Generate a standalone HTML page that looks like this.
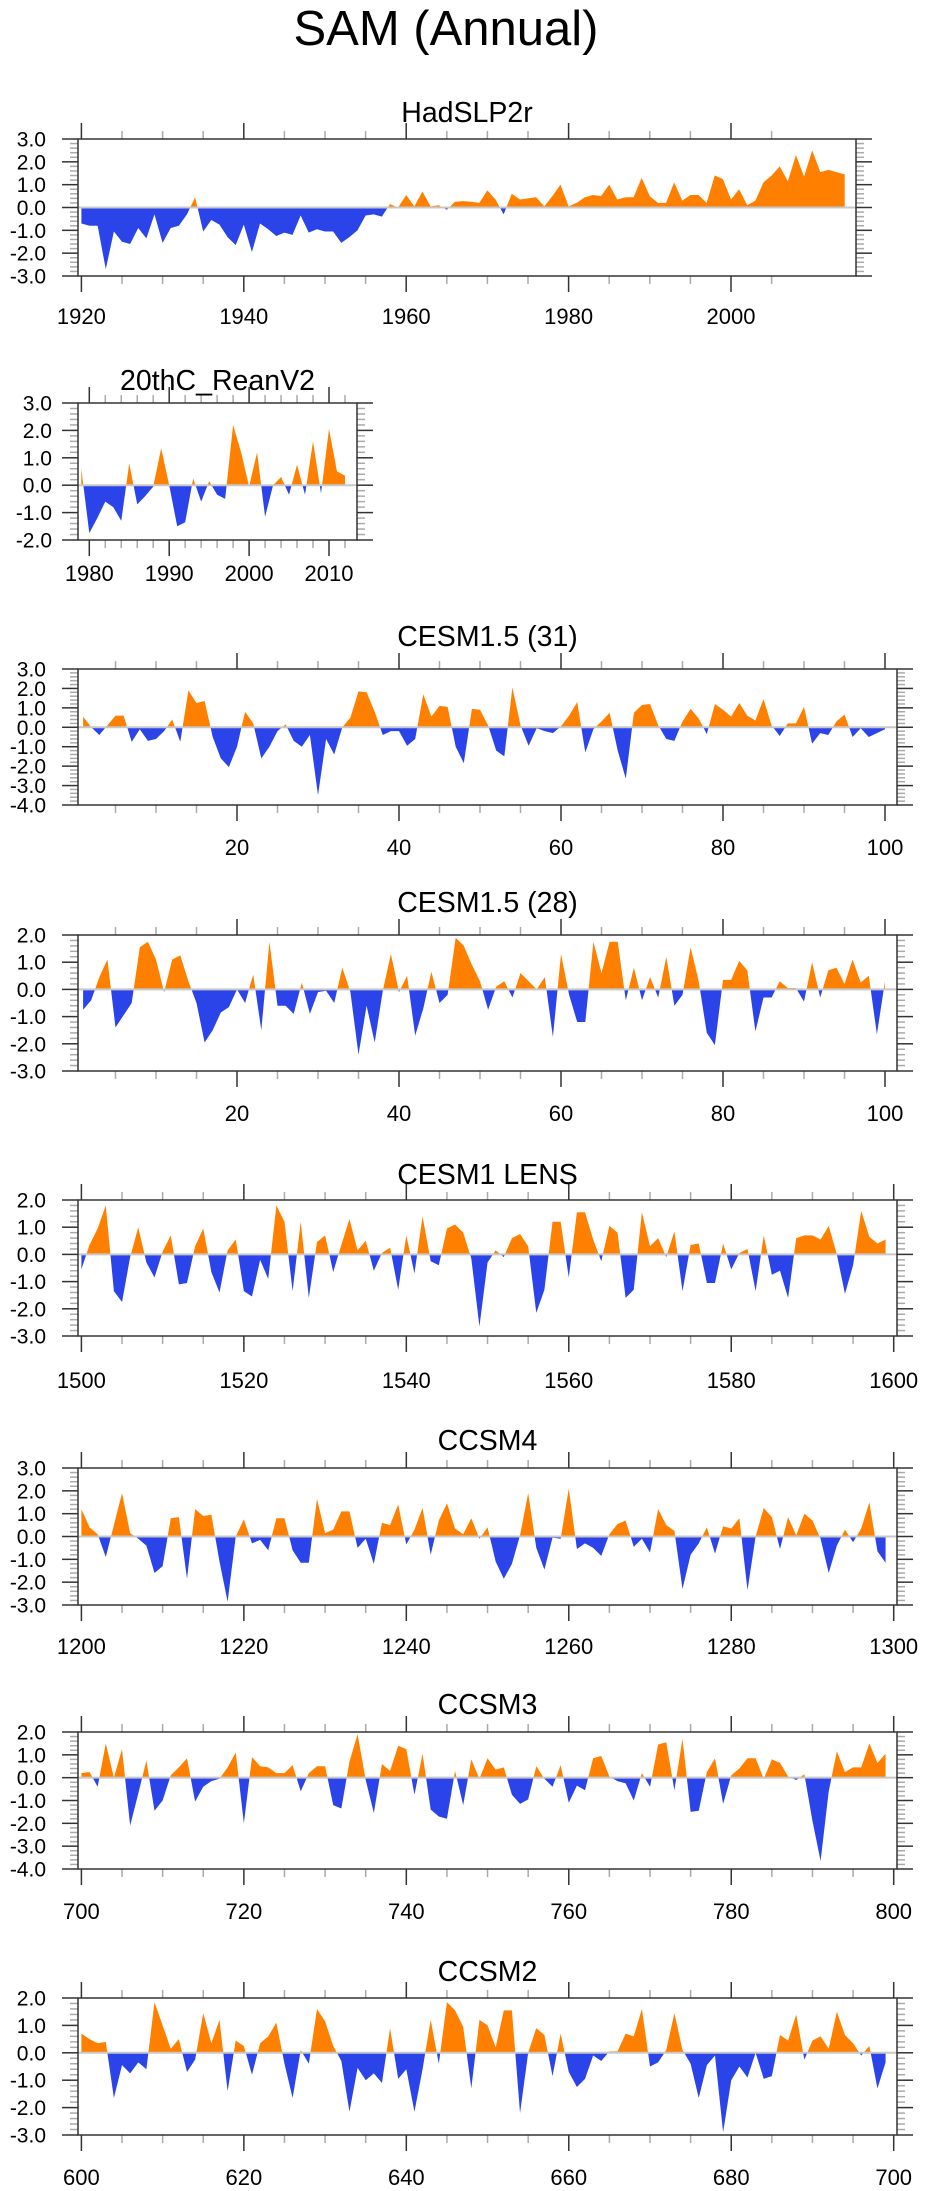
<!DOCTYPE html>
<html><head><meta charset="utf-8"><title>SAM (Annual)</title>
<style>
html,body{margin:0;padding:0;background:#fff;}
svg{display:block;font-family:"Liberation Sans",Arial,sans-serif;}
</style></head>
<body>
<svg id="chart" xmlns="http://www.w3.org/2000/svg" width="925" height="2191" viewBox="0 0 925 2191">
<rect x="0" y="0" width="925" height="2191" fill="#fff"/>
<text x="446" y="45" text-anchor="middle" font-size="49" fill="#000">SAM (Annual)</text>
</svg>
<script>
// ---- data ----
const hadStart = 1920;
const hadValues = [-0.7,-0.8,-0.8,-2.7,-1.05,-1.5,-1.6,-0.9,-1.35,-0.3,-1.55,-0.9,-0.8,-0.3,0.45,-1.05,-0.55,-0.75,-1.3,-1.65,-0.75,-1.95,-0.7,-0.95,-1.25,-1.1,-1.2,-0.35,-1.1,-0.95,-1.05,-1.05,-1.55,-1.3,-1.0,-0.35,-0.3,-0.4,0.15,0.0,0.55,0.05,0.7,0.05,0.1,-0.1,0.25,0.28,0.25,0.2,0.75,0.35,-0.3,0.6,0.35,0.4,0.45,0.05,0.5,1.0,0.05,0.2,0.45,0.55,0.5,1.0,0.35,0.45,0.45,1.3,0.5,0.2,0.2,1.1,0.3,0.55,0.55,0.2,1.4,1.25,0.35,0.8,0.1,0.3,1.1,1.4,1.8,1.15,2.3,1.35,2.5,1.55,1.65,1.55,1.45];
const reanStart = 1979;
const reanValues = [0.6,-1.75,-1.2,-0.6,-0.8,-1.3,0.8,-0.7,-0.4,-0.05,1.35,0.0,-1.5,-1.35,0.25,-0.6,0.15,-0.35,-0.5,2.2,1.2,-0.05,1.2,-1.15,0.0,0.3,-0.35,0.75,-0.35,1.6,-0.3,2.05,0.5,0.35];
const c31Start = 1;
const c31Values = [0.55,0.0,-0.4,0.1,0.6,0.6,-0.75,-0.1,-0.7,-0.6,-0.2,0.4,-0.75,1.9,1.25,1.35,-0.5,-1.6,-2.05,-1.0,0.8,0.2,-1.6,-1.0,-0.2,0.15,-0.7,-1.0,-0.4,-3.5,-0.6,-1.4,0.0,0.5,1.85,1.8,0.8,-0.4,-0.2,-0.2,-0.95,-0.6,1.7,0.55,1.1,1.05,-1.0,-1.85,0.95,0.9,0.1,-1.2,-1.5,2.05,0.1,-0.95,-0.05,-0.2,-0.3,0.05,0.6,1.3,-1.3,-0.1,0.3,0.75,-1.2,-2.65,0.75,1.15,1.2,0.1,-0.6,-0.7,0.3,0.95,0.45,-0.35,1.2,0.9,0.55,1.25,0.6,0.35,1.45,0.1,-0.45,0.2,0.2,1.05,-0.85,-0.3,-0.4,0.3,0.65,-0.5,-0.05,-0.5,-0.3,-0.1];
const c28Start = 1;
const c28Values = [-0.75,-0.4,0.45,1.1,-1.4,-0.95,-0.5,1.55,1.75,1.1,-0.1,1.1,1.25,0.3,-0.5,-1.95,-1.5,-0.85,-0.65,0.0,-0.5,0.55,-1.5,1.75,-0.6,-0.6,-0.9,0.25,-0.9,-0.1,-0.05,-0.5,0.8,-0.1,-2.4,-0.6,-1.95,-0.05,1.3,-0.1,0.5,-1.7,-0.7,0.65,-0.5,-0.2,1.9,1.6,0.9,0.3,-0.75,0.1,0.3,-0.3,0.6,0.3,0.0,0.45,-1.75,1.3,-0.2,-1.2,-1.2,1.75,0.6,1.75,1.75,-0.4,0.8,-0.4,0.45,-0.3,1.2,-0.6,-0.2,1.55,0.3,-1.6,-2.05,0.35,0.35,1.05,0.7,-1.55,-0.3,-0.3,0.3,0.05,0.05,-0.45,1.0,-0.3,0.7,0.8,0.2,1.1,0.25,0.5,-1.65,0.3];
const lensStart = 1500;
const lensValues = [-0.55,0.35,0.95,1.8,-1.35,-1.75,-0.1,1.0,-0.3,-0.85,0.1,0.7,-1.1,-1.05,0.3,0.95,-0.65,-1.4,0.15,0.55,-1.35,-1.55,-0.2,-0.9,1.8,1.2,-1.35,1.2,-1.6,0.45,0.7,-0.65,0.35,1.3,0.15,0.5,-0.6,0.05,0.25,-1.3,0.7,-0.7,1.4,-0.25,-0.4,0.95,1.1,0.8,-0.15,-2.65,-0.3,0.15,-0.1,0.6,0.75,0.3,-2.15,-1.3,1.2,1.2,-0.85,1.55,1.55,0.55,-0.25,1.05,0.8,-1.6,-1.3,1.55,0.3,0.6,-0.1,0.85,-1.35,0.35,0.4,-1.05,-1.05,0.4,-0.55,0.05,0.2,-1.35,0.7,-0.75,-0.6,-1.6,0.6,0.7,0.7,0.55,1.05,0.0,-1.45,-0.4,1.6,0.65,0.4,0.55];
const ccsm4Start = 1200;
const ccsm4Values = [1.2,0.4,0.1,-0.9,0.5,1.9,0.15,-0.1,-0.4,-1.6,-1.3,0.8,0.85,-1.85,1.2,0.9,0.95,-1.1,-2.85,0.0,0.75,-0.3,-0.15,-0.6,0.8,0.8,-0.6,-1.15,-1.15,1.65,0.15,0.3,1.1,1.1,-0.5,-0.1,-1.2,0.6,0.5,1.4,-0.35,0.3,1.25,-0.8,0.7,1.45,0.35,0.1,0.8,-0.1,0.4,-1.1,-1.85,-1.2,0.05,1.9,-0.5,-1.45,-0.05,-0.1,2.1,-0.55,-0.3,-0.5,-0.85,0.1,0.55,0.7,-0.45,-0.1,-0.7,1.2,0.5,0.25,-2.3,-0.8,-0.3,0.4,-0.75,0.45,0.35,0.8,-2.35,0.0,1.25,0.85,-0.55,0.85,0.05,1.0,0.7,-0.1,-1.6,-0.4,0.3,-0.25,0.35,1.5,-0.65,-1.15];
const ccsm3Start = 700;
const ccsm3Values = [0.2,0.25,-0.4,1.5,0.0,1.25,-2.1,-0.7,0.75,-1.45,-1.0,0.1,0.45,0.85,-1.05,-0.4,-0.15,-0.05,0.45,1.1,-2.0,0.9,0.5,0.45,0.2,0.2,0.55,-0.6,0.2,0.5,0.5,-1.2,-1.35,0.7,1.9,-0.1,-1.55,0.6,0.3,1.4,1.25,-0.75,1.05,-1.4,-1.7,-1.8,0.3,-1.2,0.8,-0.05,0.85,0.35,0.45,-0.75,-1.15,-0.95,0.5,-0.05,-0.4,0.55,-1.1,-0.35,-0.55,0.85,0.95,0.05,-0.15,-0.25,-1.0,0.2,-0.4,1.45,1.55,-0.55,1.7,-1.5,-1.45,0.25,0.85,-1.15,0.1,0.4,0.85,0.85,-0.05,0.8,0.65,0.05,-0.1,0.15,-1.9,-3.65,-0.6,1.15,0.25,0.45,0.45,1.5,0.65,1.05];
const ccsm2Start = 600;
const ccsm2Values = [0.7,0.5,0.35,0.4,-1.65,-0.45,-0.75,-0.35,-0.6,1.85,1.0,0.15,0.5,-0.7,-0.25,1.45,0.35,1.2,-1.4,0.45,0.25,-0.8,0.35,0.6,1.1,-0.4,-1.65,0.1,-0.4,1.6,1.15,0.25,-0.3,-2.15,-0.55,-1.0,-0.75,-1.1,0.9,-0.95,-0.6,-2.15,-0.6,1.2,-0.4,1.85,1.55,0.95,-1.3,1.2,1.0,0.2,1.55,1.55,-2.2,0.0,0.9,0.65,-0.85,0.7,-0.7,-1.25,-0.95,-0.1,-0.3,0.05,0.05,0.7,0.6,1.6,-0.5,-0.35,0.1,1.45,0.1,-0.4,-1.65,-0.45,-0.1,-2.9,-1.0,-0.5,-0.9,0.0,-0.95,-0.85,0.65,0.45,1.4,-0.25,0.45,0.6,0.15,1.5,0.65,0.35,-0.1,0.25,-1.3,-0.35];

const tickLabels63 = ["3.0","2.0","1.0","0.0","-1.0","-2.0","-3.0"];
const tickLabels32 = ["3.0","2.0","1.0","0.0","-1.0","-2.0"];
const tickLabels43 = ["3.0","2.0","1.0","0.0","-1.0","-2.0","-3.0","-4.0"];
const tickLabels23 = ["2.0","1.0","0.0","-1.0","-2.0","-3.0"];
const tickLabels24 = ["2.0","1.0","0.0","-1.0","-2.0","-3.0","-4.0"];
const hadXLabels = ["1920","1940","1960","1980","2000"];
const reanXLabels = ["1980","1990","2000","2010"];
const cesmXLabels = ["20","40","60","80","100"];
const lensXLabels = ["1500","1520","1540","1560","1580","1600"];
const ccsm4XLabels = ["1200","1220","1240","1260","1280","1300"];
const ccsm3XLabels = ["700","720","740","760","780","800"];
const ccsm2XLabels = ["600","620","640","660","680","700"];

// ---- drawing ----
const svg = document.getElementById('chart');
const NS = 'http://www.w3.org/2000/svg';
function mk(tag, attrs, parent){
  const e = document.createElementNS(NS, tag);
  for (const k in attrs) e.setAttribute(k, attrs[k]);
  (parent || svg).appendChild(e);
  return e;
}

function drawPanel(p){
  const g = mk('g', {});
  
  
  const sx = v => p.px0 + (v - p.d0) * (p.px1 - p.px0) / (p.d1 - p.d0);
  const sy = v => p.top + (p.ymax - v) * (p.bot - p.top) / (p.ymax - p.ymin);

  const pts = [];
  for (let i = 0; i < p.values.length; i++){
    const x = p.start + i, v = p.values[i];
    if (i > 0){
      const xp = x - 1, vp = p.values[i-1];
      if (vp * v < 0){ pts.push([xp + vp / (vp - v), 0]); }
    }
    pts.push([x, v]);
  }
  const first = pts[0][0], last = pts[pts.length-1][0];
  let dPos = 'M' + sx(first) + ' ' + sy(0);
  let dNeg = 'M' + sx(first) + ' ' + sy(0);
  pts.forEach(q => {
    dPos += ' L' + sx(q[0]).toFixed(2) + ' ' + sy(Math.max(q[1], 0)).toFixed(2);
    dNeg += ' L' + sx(q[0]).toFixed(2) + ' ' + sy(Math.min(q[1], 0)).toFixed(2);
  });
  dPos += ' L' + sx(last) + ' ' + sy(0) + ' Z';
  dNeg += ' L' + sx(last) + ' ' + sy(0) + ' Z';
  const pos = mk('path', {d: dPos, fill: '#ff8000', stroke: 'none'}, g);
  
  
  const neg = mk('path', {d: dNeg, fill: '#2a44ea', stroke: 'none'}, g);
  
  

  const z = mk('line', {x1: p.left, x2: p.right, y1: sy(0), y2: sy(0), stroke: '#c8c8c8', 'stroke-width': 2}, g);
  
  

  for (let k = 0; k <= Math.round((p.ymax - p.ymin) / 0.2); k++){
    const v = p.ymax - k * 0.2;
    const y = sy(v);
    const major = Math.abs(v - Math.round(v)) < 1e-6;
    const len = major ? 16 : 8;
    const col = major ? '#333' : '#aaa';
    const tl = mk('line', {x1: p.left - len, x2: p.left, y1: y, y2: y, stroke: col, 'stroke-width': 1.5}, g);
    
    
    const tr = mk('line', {x1: p.right, x2: p.right + len, y1: y, y2: y, stroke: col, 'stroke-width': 1.5}, g);
    
    
  }
  p.yLabels.forEach((lab, i) => {
    const v = p.ymax - i;
    const t = mk('text', {x: p.labelRight, y: sy(v) + 7.5, 'text-anchor': 'end', 'font-size': 21, fill: '#000'}, g);
    t.textContent = lab;
    
    
  });

  for (let v = p.minorFrom; v <= p.d1 + 5; v += p.minorStep){
    const x = sx(v);
    if (x < p.left - 0.5 || x > p.right + 0.5) continue;
    const major = ((v - p.majorFrom) % p.majorStep) === 0;
    const len = major ? 16 : 8;
    const col = major ? '#333' : '#aaa';
    const tb = mk('line', {x1: x, x2: x, y1: p.bot, y2: p.bot + len, stroke: col, 'stroke-width': 1.5}, g);
    
    
    const tt = mk('line', {x1: x, x2: x, y1: p.top - len, y2: p.top, stroke: col, 'stroke-width': 1.5}, g);
    
    
  }
  p.xLabels.forEach(lab => {
    const v = parseFloat(lab);
    const t = mk('text', {x: sx(v), y: p.labelY + 8, 'text-anchor': 'middle', 'font-size': 22, fill: '#000'}, g);
    t.textContent = lab;
    
    
  });

  const fr = mk('rect', {x: p.left, y: p.top, width: p.right - p.left, height: p.bot - p.top, fill: 'none', stroke: '#333', 'stroke-width': 1.5}, g);
  
  

  const tt = mk('text', {x: (p.left + p.right) / 2, y: p.titleY + 10, 'text-anchor': 'middle', 'font-size': 28.5, fill: '#000'}, g);
  tt.textContent = p.title;
  
  
}

const panels = [
  {name:'hadslp2r', title:'HadSLP2r', values:hadValues, start:hadStart, d0:1920, d1:2000, px0:81.4, px1:731, left:78, right:856, top:139, bot:276, ymin:-3, ymax:3, yLabels:tickLabels63, xLabels:hadXLabels, minorFrom:1900, minorStep:5, majorFrom:1920, majorStep:20, titleY:112, labelY:316, labelRight:46},
  {name:'reanv2', title:'20thC_ReanV2', values:reanValues, start:reanStart, d0:1980, d1:2010, px0:89.3, px1:329, left:78, right:357, top:403, bot:540, ymin:-2, ymax:3, yLabels:tickLabels32, xLabels:reanXLabels, minorFrom:1970, minorStep:2, majorFrom:1980, majorStep:10, titleY:380, labelY:573, labelRight:52},
  {name:'cesm15-31', title:'CESM1.5 (31)', values:c31Values, start:c31Start, d0:20, d1:100, px0:237, px1:885, left:78, right:897, top:669, bot:805, ymin:-4, ymax:3, yLabels:tickLabels43, xLabels:cesmXLabels, minorFrom:0, minorStep:5, majorFrom:0, majorStep:20, titleY:636, labelY:847, labelRight:46},
  {name:'cesm15-28', title:'CESM1.5 (28)', values:c28Values, start:c28Start, d0:20, d1:100, px0:237, px1:885, left:78, right:897, top:935, bot:1071, ymin:-3, ymax:2, yLabels:tickLabels23, xLabels:cesmXLabels, minorFrom:0, minorStep:5, majorFrom:0, majorStep:20, titleY:902, labelY:1113, labelRight:46},
  {name:'cesm1-lens', title:'CESM1 LENS', values:lensValues, start:lensStart, d0:1500, d1:1600, px0:81.4, px1:893.7, left:78, right:897, top:1200, bot:1336, ymin:-3, ymax:2, yLabels:tickLabels23, xLabels:lensXLabels, minorFrom:1500, minorStep:5, majorFrom:1500, majorStep:20, titleY:1174, labelY:1380, labelRight:46},
  {name:'ccsm4', title:'CCSM4', values:ccsm4Values, start:ccsm4Start, d0:1200, d1:1300, px0:81.4, px1:893.7, left:78, right:897, top:1468, bot:1605, ymin:-3, ymax:3, yLabels:tickLabels63, xLabels:ccsm4XLabels, minorFrom:1200, minorStep:5, majorFrom:1200, majorStep:20, titleY:1440, labelY:1646, labelRight:46},
  {name:'ccsm3', title:'CCSM3', values:ccsm3Values, start:ccsm3Start, d0:700, d1:800, px0:81.4, px1:893.7, left:78, right:897, top:1732, bot:1869, ymin:-4, ymax:2, yLabels:tickLabels24, xLabels:ccsm3XLabels, minorFrom:700, minorStep:5, majorFrom:700, majorStep:20, titleY:1704, labelY:1911, labelRight:46},
  {name:'ccsm2', title:'CCSM2', values:ccsm2Values, start:ccsm2Start, d0:600, d1:700, px0:81.4, px1:893.7, left:78, right:897, top:1998, bot:2135, ymin:-3, ymax:2, yLabels:tickLabels23, xLabels:ccsm2XLabels, minorFrom:600, minorStep:5, majorFrom:600, majorStep:20, titleY:1971, labelY:2177, labelRight:46}
];
panels.forEach(drawPanel);
</script>
</body></html>
